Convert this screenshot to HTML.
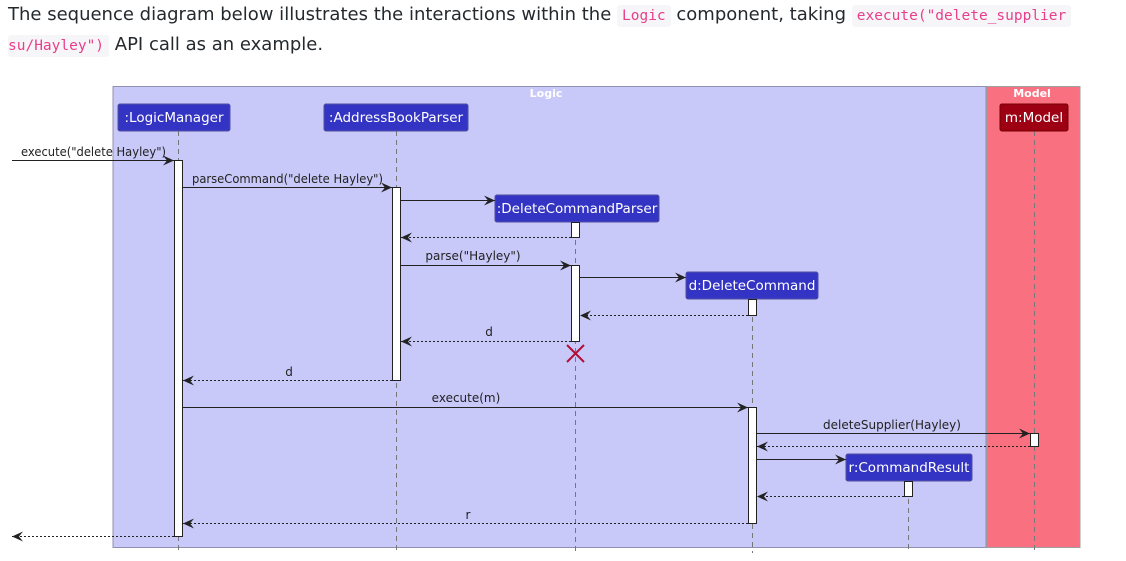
<!DOCTYPE html>
<html><head><meta charset="utf-8">
<style>
html,body{margin:0;padding:0;background:#fff;width:1126px;height:561px;overflow:hidden;}
.p{position:absolute;left:8px;font-family:"DejaVu Sans","Liberation Sans",sans-serif;font-size:18px;color:#24292e;margin:0;white-space:nowrap;}
code{font-family:"DejaVu Sans Mono","Liberation Mono",monospace;font-size:14.5px;color:#e83e8c;background:#f6f6f8;padding:3px 5px;border-radius:3px;}
svg{position:absolute;left:0;top:0;}
svg text{font-family:"DejaVu Sans","Liberation Sans",sans-serif;}
</style></head><body>
<div class="p" style="top:4px;">The sequence diagram below illustrates the interactions within the <code>Logic</code> component, taking <code>execute("delete_supplier</code></div>
<div class="p" style="top:34px;left:8px;"><code style="padding-left:0">su/Hayley")</code> API call as an example.</div>
<svg width="1126" height="561" viewBox="0 0 1126 561">
<defs>
<marker id="a" markerWidth="12" markerHeight="10" refX="11" refY="5" orient="auto" markerUnits="userSpaceOnUse">
<path d="M0,0 L11,5 L0,10 L4,5 Z" fill="#222"/>
</marker>
</defs>
<rect x="113" y="86.5" width="873" height="461" fill="#c8c8f9" stroke="#9090b0"/>
<text x="546" y="97" font-size="11" font-weight="bold" fill="#fff" text-anchor="middle">Logic</text>
<rect x="987" y="86.5" width="93" height="461" fill="#f97181" stroke="#a0a0a0"/>
<text x="1032" y="97" font-size="11" font-weight="bold" fill="#fff" text-anchor="middle">Model</text>
<g stroke="#777" stroke-dasharray="5,4" stroke-width="1">
<line x1="178.5" y1="131" x2="178.5" y2="553"/>
<line x1="396.5" y1="131" x2="396.5" y2="553"/>
<line x1="575.5" y1="222" x2="575.5" y2="553"/>
<line x1="752.5" y1="299" x2="752.5" y2="553"/>
<line x1="908.5" y1="481" x2="908.5" y2="553"/>
<line x1="1034.5" y1="131" x2="1034.5" y2="553"/>
</g>
<g font-size="13.5" fill="#fff" text-anchor="middle">
<rect x="118" y="104" width="112" height="27" rx="2" fill="#3333c4" stroke="#5050a0"/><text x="174" y="122">:LogicManager</text>
<rect x="324" y="104" width="144" height="27" rx="2" fill="#3333c4" stroke="#5050a0"/><text x="396" y="122">:AddressBookParser</text>
<rect x="495" y="195" width="164" height="27" rx="2" fill="#3333c4" stroke="#5050a0"/><text x="577" y="213">:DeleteCommandParser</text>
<rect x="686" y="272" width="132" height="27" rx="2" fill="#3333c4" stroke="#5050a0"/><text x="752" y="290">d:DeleteCommand</text>
<rect x="846" y="454" width="126" height="27" rx="2" fill="#3333c4" stroke="#5050a0"/><text x="909" y="472">r:CommandResult</text>
<rect x="1000" y="104" width="68" height="27" rx="2" fill="#9d0012" stroke="#700"/><text x="1034" y="122">m:Model</text>
</g>
<g fill="#fff" stroke="#222" stroke-width="1">
<rect x="174.5" y="160.5" width="8" height="376"/>
<rect x="392.5" y="187.5" width="8" height="193"/>
<rect x="571.5" y="222.5" width="8" height="15"/>
<rect x="571.5" y="265.5" width="8" height="76"/>
<rect x="748.5" y="299.5" width="8" height="16"/>
<rect x="748.5" y="407.5" width="8" height="116"/>
<rect x="1030.5" y="433.5" width="8" height="13"/>
<rect x="904.5" y="481.5" width="8" height="15"/>
</g>
<g stroke="#222" stroke-width="1" fill="none" marker-end="url(#a)">
<line x1="12" y1="160.5" x2="174" y2="160.5"/>
<line x1="183" y1="187.5" x2="392" y2="187.5"/>
<line x1="401" y1="200.5" x2="495" y2="200.5"/>
<line x1="401" y1="265.5" x2="571" y2="265.5"/>
<line x1="580" y1="277.5" x2="686" y2="277.5"/>
<line x1="183" y1="407.5" x2="748" y2="407.5"/>
<line x1="757" y1="433.5" x2="1030" y2="433.5"/>
<line x1="757" y1="459.5" x2="846" y2="459.5"/>
</g>
<g stroke="#222" stroke-width="1" fill="none" stroke-dasharray="2,2" marker-end="url(#a)">
<line x1="571" y1="237.5" x2="401" y2="237.5"/>
<line x1="748" y1="315.5" x2="580" y2="315.5"/>
<line x1="571" y1="341.5" x2="401" y2="341.5"/>
<line x1="392" y1="380.5" x2="183" y2="380.5"/>
<line x1="1030" y1="446.5" x2="757" y2="446.5"/>
<line x1="904" y1="496.5" x2="757" y2="496.5"/>
<line x1="748" y1="523.5" x2="183" y2="523.5"/>
<line x1="174" y1="536.5" x2="12" y2="536.5"/>
</g>
<g stroke="#b0103a" stroke-width="2"><line x1="567" y1="345" x2="584" y2="362"/><line x1="584" y1="345" x2="567" y2="362"/></g>
<g font-size="12" fill="#222">
<text x="21" y="156" textLength="145" lengthAdjust="spacingAndGlyphs">execute("delete Hayley")</text>
<text x="192" y="183" textLength="191" lengthAdjust="spacingAndGlyphs">parseCommand("delete Hayley")</text>
<text x="473" y="260" text-anchor="middle">parse("Hayley")</text>
<text x="489" y="336" text-anchor="middle">d</text>
<text x="289" y="376" text-anchor="middle">d</text>
<text x="466" y="402" text-anchor="middle">execute(m)</text>
<text x="892" y="429" text-anchor="middle">deleteSupplier(Hayley)</text>
<text x="468" y="519" text-anchor="middle">r</text>
</g>
</svg>
</body></html>
